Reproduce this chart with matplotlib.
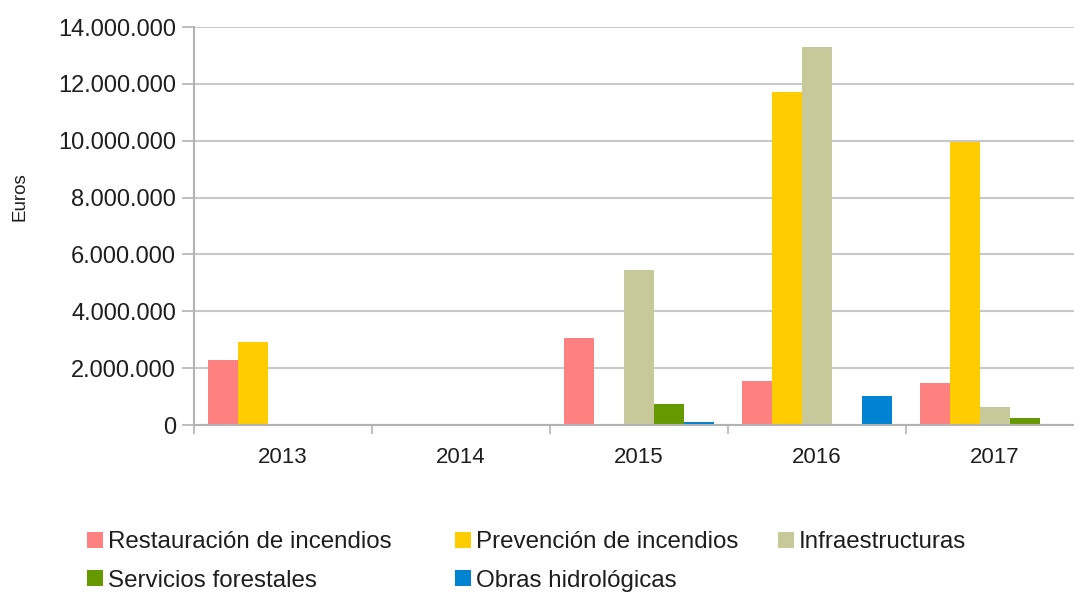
import matplotlib
matplotlib.use("Agg")
import matplotlib.pyplot as plt
import matplotlib.ticker as mticker
import numpy as np

years = ["2013", "2014", "2015", "2016", "2017"]
series_names = ["Restauración de incendios", "Prevención de incendios",
                "Infraestructuras", "Servicios forestales", "Obras hidrológicas"]
restauracion = [2290000, 0, 3050000, 1550000, 1490000]
prevencion = [2920000, 0, 0, 11700000, 9970000]
infraestructuras = [0, 0, 5450000, 13310000, 620000]
servicios = [0, 0, 730000, 0, 240000]
obras = [0, 0, 120000, 1020000, 0]
colors = ["#FF8080", "#FFCC00", "#C8C99A", "#669900", "#0084D1"]
yticks = [0, 2000000, 4000000, 6000000, 8000000, 10000000, 12000000, 14000000]

plt.rcParams['font.family'] = ['Liberation Sans', 'DejaVu Sans']

W, H = 1074, 595
fig = plt.figure(figsize=(W / 100, H / 100), dpi=100)
left, right, bottom, top = 193.5, 1084.0, 425.0, 27.0
ax = fig.add_axes([left / W, 1 - bottom / H, (right - left) / W, (bottom - top) / H])

data = [restauracion, prevencion, infraestructuras, servicios, obras]
x = np.arange(len(years))
bw = 0.1685
handles = []
for i, (vals, c, name) in enumerate(zip(data, colors, series_names)):
    b = ax.bar(x + (i - 2) * bw, vals, width=bw, color=c, label=name, linewidth=0, zorder=3)
    handles.append(b)

ax.set_xlim(-0.5, len(years) - 0.5)
ax.set_ylim(0, 14000000)
ax.set_yticks(yticks)
ax.yaxis.set_major_formatter(mticker.FuncFormatter(lambda v, p: f"{int(v):,}".replace(",", ".")))
ax.set_xticks(x)
ax.set_xticklabels(years)
ax.set_xticks(np.arange(-0.5, len(years)), minor=True)

ax.grid(axis='y', color='#c8c8c8', linewidth=1.5, zorder=0)
ax.set_axisbelow(True)
for s in ['top', 'right']:
    ax.spines[s].set_visible(False)
for s in ['left', 'bottom']:
    ax.spines[s].set_color('#b3b3b3')
    ax.spines[s].set_linewidth(1.5)
    ax.spines[s].set_zorder(4)

ax.tick_params(axis='y', which='major', direction='out', length=9, width=1.2, color='#b3b3b3',
               labelsize=17, labelcolor='#1e1e1e', pad=3.5)
ax.tick_params(axis='x', which='major', length=0, labelsize=16, labelcolor='#1e1e1e', pad=16)
ax.tick_params(axis='x', which='minor', direction='out', length=6.5, width=1.2, color='#b3b3b3')

fig.text(20 / W, 1 - 197 / H, "Euros", rotation=90, fontsize=13.5, color='#1e1e1e',
         ha='center', va='center')

cols = [([0, 3], 86.5, 561.5), ([1, 4], 454.5, 561.5), ([2], 777.5, 542.5)]
for idxs, xp, yc in cols:
    leg = fig.legend([handles[k] for k in idxs], [series_names[k] for k in idxs],
                     loc='center left', bbox_to_anchor=(xp / W, 1 - yc / H),
                     frameon=False, fontsize=17.4, handlelength=0.67, handleheight=0.63,
                     handletextpad=0.2, borderpad=0, borderaxespad=0, labelspacing=0.68,
                     labelcolor='#1e1e1e')

fig.savefig("out.png", dpi=100)
